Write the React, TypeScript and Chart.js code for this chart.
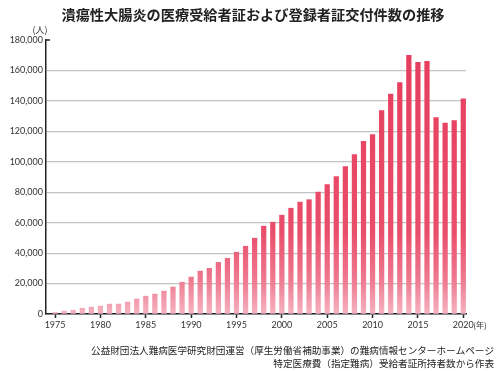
import React, { useEffect, useRef } from "react";
import { Chart, registerables } from "chart.js";

Chart.register(...registerables);

const TITLE = "潰瘍性大腸炎の医療受給者証および登録者証交付件数の推移";
const Y_UNIT = "(人)";
const X_UNIT = "(年)";
const NOTE_LINES = [
  "公益財団法人難病医学研究財団運営（厚生労働省補助事業）の難病情報センターホームページ",
  "特定医療費（指定難病）受給者証所持者数から作表",
];

const years = [
  1975, 1976, 1977, 1978, 1979, 1980, 1981, 1982, 1983, 1984,
  1985, 1986, 1987, 1988, 1989, 1990, 1991, 1992, 1993, 1994,
  1995, 1996, 1997, 1998, 1999, 2000, 2001, 2002, 2003, 2004,
  2005, 2006, 2007, 2008, 2009, 2010, 2011, 2012, 2013, 2014,
  2015, 2016, 2017, 2018, 2019, 2020,
];

const patients = [
  1000, 1900, 2500, 3800, 4500, 5200, 6500, 6500, 7800, 9800,
  11700, 13100, 15000, 17700, 20900, 24300, 28200, 30000, 33900, 36600,
  40600, 44500, 49800, 57700, 60300, 64900, 69500, 73500, 75100, 80100,
  85000, 90200, 96800, 104700, 113500, 117900, 133700, 144400, 152100, 169900,
  165300, 166000, 129100, 125500, 127100, 141300,
];

const xTicks = [1975, 1980, 1985, 1990, 1995, 2000, 2005, 2010, 2015, 2020];
const yTicks = [0, 20000, 40000, 60000, 80000, 100000, 120000, 140000, 160000, 180000];

const FONT_CJK = "'Noto Sans CJK JP', 'Noto Sans', sans-serif";
const FONT_NUM = "Lato, 'Open Sans', sans-serif";

export default function App() {
  const ref = useRef<HTMLCanvasElement | null>(null);

  useEffect(() => {
    document.body.style.margin = "0";
    const canvas = ref.current;
    if (!canvas) return;

    const textPlugin = {
      id: "extraText",
      afterDraw(chart: any) {
        const c = chart.ctx;
        const area = chart.chartArea;
        c.save();
        c.fillStyle = "#222";
        c.textBaseline = "middle";
        c.textAlign = "center";
        c.font = `bold 14.2px ${FONT_CJK}`;
        c.fillText(TITLE, 253, 15);

        c.font = `9px ${FONT_CJK}`;
        c.fillStyle = "#333";
        c.fillText(Y_UNIT, 40, 30);

        // short tick at top of y axis
        c.strokeStyle = "#222";
        c.lineWidth = 1.5;
        c.beginPath();
        c.moveTo(area.left, area.top);
        c.lineTo(area.left + 4, area.top);
        c.stroke();

        const xs = chart.scales.x;
        c.textAlign = "left";
        c.font = `8px ${FONT_CJK}`;
        c.fillText(X_UNIT, xs.getPixelForValue(2020) + 10, 325);

        c.textAlign = "right";
        c.fillStyle = "#222";
        c.font = `9.6px ${FONT_CJK}`;
        c.fillText(NOTE_LINES[0], 494, 350);
        c.fillText(NOTE_LINES[1], 494, 363);
        c.restore();
      },
    };

    const chart = new Chart(canvas, {
      type: "bar",
      data: {
        datasets: [
          {
            label: "受給者証交付件数",
            data: years.map((y, i) => ({ x: y, y: patients[i] })),
            barThickness: 4.6,
            borderWidth: 0,
            backgroundColor: (ctx: any) => {
              const chart = ctx.chart;
              const area = chart.chartArea;
              if (!area) return "#E8415F";
              const g = chart.ctx.createLinearGradient(0, area.top, 0, area.bottom);
              g.addColorStop(0, "#E63C5C");
              g.addColorStop(0.7, "#E94E6B");
              g.addColorStop(0.88, "#EE7B91");
              g.addColorStop(1, "#F5B3C1");
              return g;
            },
          },
        ],
      },
      options: {
        animation: false,
        responsive: false,
        maintainAspectRatio: false,
        layout: { padding: { top: 40, right: 36, bottom: 37, left: 0 } },
        plugins: {
          legend: { display: false },
          tooltip: { enabled: false },
          title: { display: false },
        },
        scales: {
          x: {
            type: "linear",
            offset: false,
            min: 1974,
            max: 2020.3,
            afterBuildTicks: (axis: any) => {
              axis.ticks = xTicks.map((v) => ({ value: v }));
            },
            afterFit: (axis: any) => {
              axis.height = 20;
            },
            border: { display: true, color: "#222", width: 1.5 },
            grid: {
              display: true,
              offset: false,
              drawOnChartArea: false,
              drawTicks: true,
              tickLength: 4,
              tickColor: "#222",
              tickWidth: 1.5,
            },
            ticks: {
              autoSkip: false,
              maxRotation: 0,
              padding: 2,
              color: "#333",
              font: { family: FONT_NUM, size: 9 },
              callback: (v: any) => String(v),
            },
          },
          y: {
            min: 0,
            max: 180000,
            afterBuildTicks: (axis: any) => {
              axis.ticks = yTicks.map((v) => ({ value: v }));
            },
            afterFit: (axis: any) => {
              axis.width = 46;
            },
            border: { display: true, color: "#222", width: 1.5 },
            grid: {
              drawTicks: false,
              lineWidth: 1.2,
              color: (ctx: any) =>
                ctx.tick && ctx.tick.value === 180000 ? "rgba(0,0,0,0)" : "#c4c4c4",
            },
            ticks: {
              padding: 3,
              color: "#333",
              font: { family: FONT_NUM, size: 9 },
              callback: (v: any) => Number(v).toLocaleString("en-US"),
            },
          },
        },
      },
      plugins: [textPlugin],
    } as any);

    return () => chart.destroy();
  }, []);

  return (
    <div style={{ width: 502, height: 371 }}>
      <canvas ref={ref} width={502} height={371} style={{ display: "block" }} />
    </div>
  );
}
